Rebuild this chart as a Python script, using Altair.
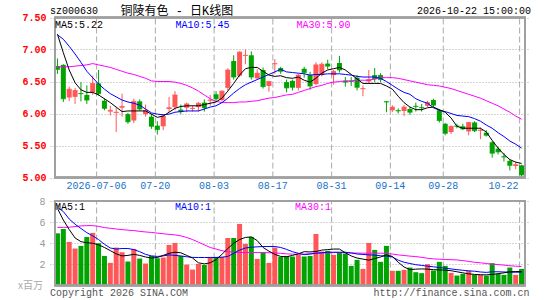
import altair as alt
import pandas as pd

# ---------------- data ----------------
date_idx = [7, 17, 27, 37, 47, 57, 66, 79]
date_labels = ["2026-07-06", "07-20", "08-03", "08-17", "08-31", "09-14", "09-28", "10-22"]

opens = [6.74, 6.76, 6.25, 6.26, 6.32, 6.29, 6.33, 6.47, 6.20, 6.03,
         6.01, 6.09, 5.99, 5.89, 6.19, 5.99, 5.95, 5.81, 5.80, 6.07,
         6.10, 6.06, 6.09, 6.07, 6.10, 6.17, 6.20, 6.30, 6.21, 6.40,
         6.82, 6.59, 6.90, 6.91, 6.55, 6.68, 6.43, 6.77, 6.71, 6.49,
         6.51, 6.40, 6.70, 6.60, 6.46, 6.60, 6.78, 6.60, 6.79, 6.51,
         6.51, 6.56, 6.38, 6.50, 6.60, 6.60, 6.19, 6.05, 6.05, 6.04,
         6.07, 6.12, 6.10, 6.12, 6.21, 6.05, 5.84, 5.71, 5.81, 5.80,
         5.72, 5.86, 5.73, 5.70, 5.55, 5.45, 5.33, 5.26, 5.18, 5.19]
highs = [6.86, 6.77, 6.42, 6.40, 6.49, 6.44, 6.59, 6.68, 6.24, 6.12,
         6.10, 6.31, 6.01, 6.23, 6.22, 6.14, 5.99, 5.88, 5.99, 6.26,
         6.35, 6.14, 6.17, 6.13, 6.18, 6.22, 6.29, 6.35, 6.36, 6.71,
         6.91, 6.97, 7.00, 6.97, 6.69, 6.72, 6.51, 6.85, 6.73, 6.53,
         6.53, 6.62, 6.73, 6.65, 6.80, 6.80, 6.84, 6.68, 6.90, 6.57,
         6.57, 6.60, 6.44, 6.68, 6.71, 6.63, 6.19, 6.13, 6.08, 6.13,
         6.10, 6.17, 6.15, 6.20, 6.23, 6.07, 5.85, 5.81, 5.84, 5.84,
         5.87, 5.88, 5.78, 5.74, 5.57, 5.48, 5.385, 5.29, 5.245, 5.20]
lows = [6.62, 6.18, 6.19, 6.15, 6.19, 6.15, 6.29, 6.28, 6.05, 5.97,
        5.71, 5.95, 5.84, 5.85, 6.04, 5.95, 5.76, 5.67, 5.74, 6.02,
        6.05, 5.99, 6.02, 6.03, 6.03, 6.03, 6.12, 6.18, 6.19, 6.36,
        6.53, 6.57, 6.77, 6.53, 6.53, 6.39, 6.34, 6.62, 6.62, 6.33,
        6.36, 6.36, 6.56, 6.37, 6.44, 6.58, 6.69, 6.45, 6.64, 6.42,
        6.43, 6.36, 6.27, 6.46, 6.49, 6.49, 6.02, 6.02, 6.00, 5.96,
        5.98, 6.03, 6.03, 6.10, 6.10, 5.86, 5.66, 5.68, 5.77, 5.74,
        5.66, 5.71, 5.60, 5.64, 5.31, 5.36, 5.25, 5.11, 5.13, 5.00]
closes = [6.69, 6.23, 6.38, 6.36, 6.31, 6.21, 6.47, 6.31, 6.08, 6.05,
          6.02, 6.11, 5.87, 6.19, 6.07, 6.05, 5.80, 5.75, 5.96, 6.09,
          6.29, 6.03, 6.15, 6.08, 6.16, 6.09, 6.21, 6.23, 6.35, 6.68,
          6.57, 6.96, 6.91, 6.57, 6.63, 6.42, 6.50, 6.78, 6.66, 6.40,
          6.41, 6.60, 6.64, 6.43, 6.76, 6.77, 6.74, 6.66, 6.68, 6.49,
          6.50, 6.41, 6.39, 6.53, 6.54, 6.53, 6.18, 6.10, 6.04, 6.10,
          6.02, 6.11, 6.09, 6.17, 6.13, 5.89, 5.69, 5.80, 5.80, 5.76,
          5.86, 5.73, 5.74, 5.66, 5.38, 5.40, 5.32, 5.19, 5.20, 5.04]
ma5 = [7.24, 6.95, 6.68, 6.48, 6.37, 6.33, 6.33, 6.29, 6.23, 6.17,
       6.10, 6.03, 6.04, 6.04, 6.04, 6.04, 5.99, 5.94, 5.96, 6.02,
       6.08, 6.11, 6.12, 6.12, 6.12, 6.14, 6.16, 6.18, 6.24, 6.35,
       6.47, 6.60, 6.70, 6.72, 6.72, 6.66, 6.60, 6.58, 6.59, 6.56,
       6.55, 6.57, 6.52, 6.49, 6.55, 6.63, 6.68, 6.70, 6.72, 6.68,
       6.61, 6.54, 6.47, 6.47, 6.47, 6.47, 6.43, 6.38, 6.27, 6.17,
       6.10, 6.06, 6.06, 6.09, 6.10, 6.06, 6.02, 5.93, 5.80, 5.77,
       5.77, 5.77, 5.77, 5.71, 5.58, 5.46, 5.36, 5.28, 5.24, 5.22]
ma10 = [7.23, 7.16, 7.05, 6.93, 6.80, 6.66, 6.56, 6.46, 6.38, 6.31,
        6.26, 6.21, 6.18, 6.16, 6.13, 6.07, 6.01, 5.99, 5.98, 5.99,
        6.02, 6.03, 6.04, 6.04, 6.04, 6.07, 6.10, 6.12, 6.17, 6.24,
        6.32, 6.39, 6.45, 6.49, 6.53, 6.57, 6.61, 6.65, 6.69, 6.65,
        6.64, 6.63, 6.62, 6.60, 6.61, 6.61, 6.62, 6.62, 6.62, 6.61,
        6.60, 6.58, 6.57, 6.57, 6.57, 6.55, 6.50, 6.44, 6.38, 6.33,
        6.30, 6.23, 6.19, 6.16, 6.09, 6.05, 6.03, 6.00, 5.97, 5.96,
        5.95, 5.92, 5.88, 5.82, 5.77, 5.70, 5.64, 5.57, 5.52, 5.46]
ma30 = [6.73, 6.73, 6.73, 6.74, 6.75, 6.76, 6.78, 6.76, 6.74, 6.72,
        6.69, 6.66, 6.63, 6.61, 6.58, 6.55, 6.51, 6.50, 6.50, 6.50,
        6.49, 6.47, 6.44, 6.40, 6.35, 6.29, 6.23, 6.19, 6.17, 6.17,
        6.17, 6.18, 6.18, 6.19, 6.20, 6.22, 6.24, 6.25, 6.27, 6.29,
        6.30, 6.33, 6.36, 6.39, 6.42, 6.44, 6.47, 6.49, 6.50, 6.51,
        6.51, 6.52, 6.52, 6.52, 6.54, 6.56, 6.56, 6.56, 6.55, 6.53,
        6.51, 6.49, 6.47, 6.45, 6.44, 6.43, 6.41, 6.39, 6.36, 6.33,
        6.30, 6.27, 6.24, 6.20, 6.16, 6.12, 6.07, 6.02, 5.96, 5.91]
volumes = [4.94, 5.35, 4.13, 3.50, 3.75, 4.60, 4.98, 4.00, 2.80, 2.14,
           3.59, 3.15, 2.27, 3.46, 2.55, 2.08, 2.80, 2.58, 2.65, 3.84,
           4.03, 2.80, 1.98, 1.51, 2.05, 1.95, 2.71, 2.71, 2.71, 4.50,
           4.50, 5.83, 3.94, 4.60, 2.52, 3.15, 2.14, 3.59, 2.71, 2.80,
           2.74, 2.90, 2.74, 2.80, 4.88, 3.21, 3.28, 2.90, 3.15, 3.02,
           1.86, 2.43, 1.57, 4.03, 3.37, 2.24, 3.75, 1.39, 1.39, 1.48,
           1.70, 1.26, 1.17, 2.02, 1.42, 2.24, 1.86, 1.20, 0.94, 1.10,
           1.39, 1.01, 1.01, 0.94, 2.11, 1.10, 1.01, 1.70, 1.01, 1.57]
vol_ma5 = [7.3, 6.2, 5.3, 4.5, 4.15, 4.05, 4.0, 3.85, 3.6, 3.3,
           3.0, 2.8, 2.85, 2.95, 2.85, 2.7, 2.6, 2.65, 2.85, 3.05,
           3.15, 3.1, 2.85, 2.6, 2.15, 2.05, 2.15, 2.45, 2.95, 3.5,
           4.0, 4.35, 4.55, 4.6, 4.25, 3.6, 3.25, 2.95, 2.75, 2.72,
           2.85, 3.0, 3.2, 3.18, 3.22, 3.35, 3.4, 3.45, 3.45, 3.1,
           2.8, 2.6, 2.5, 2.4, 2.55, 2.7, 2.9, 2.75, 2.2, 1.75,
           1.5, 1.55, 1.57, 1.55, 1.5, 1.48, 1.45, 1.4, 1.3, 1.2,
           1.1, 1.05, 1.02, 1.01, 1.05, 1.12, 1.2, 1.3, 1.32, 1.32]
vol_ma10 = [7.4, 7.0, 6.3, 5.8, 5.4, 5.0, 4.7, 4.35, 3.9, 3.55,
            3.45, 3.5, 3.5, 3.4, 3.2, 2.95, 2.8, 2.75, 2.8, 2.9,
            2.85, 2.8, 2.72, 2.66, 2.65, 2.65, 2.65, 2.65, 2.68, 2.75,
            3.05, 3.35, 3.55, 3.62, 3.66, 3.69, 3.69, 3.69, 3.6, 3.42,
            3.2, 3.05, 2.92, 2.98, 3.06, 3.1, 3.15, 3.15, 3.15, 3.15,
            3.08, 2.98, 2.94, 2.9, 2.87, 2.82, 2.78, 2.7, 2.4, 2.2,
            2.08, 1.97, 1.9, 1.83, 1.77, 1.7, 1.64, 1.57, 1.5, 1.44,
            1.39, 1.35, 1.28, 1.24, 1.3, 1.3, 1.28, 1.26, 1.26, 1.26]
vol_ma30 = [5.5, 5.5, 5.52, 5.58, 5.64, 5.67, 5.67, 5.6, 5.48, 5.42,
            5.35, 5.29, 5.24, 5.2, 5.12, 5.07, 5.02, 4.96, 4.9, 4.84,
            4.79, 4.7, 4.55, 4.35, 4.1, 3.85, 3.6, 3.45, 3.3, 3.2,
            3.15, 3.13, 3.12, 3.12, 3.12, 3.12, 3.1, 3.08, 3.04, 3.0,
            2.97, 2.96, 2.97, 3.0, 3.05, 3.08, 3.1, 3.12, 3.12, 3.1,
            3.08, 3.07, 3.06, 3.06, 3.06, 3.06, 3.04, 2.98, 2.9, 2.84,
            2.78, 2.74, 2.66, 2.58, 2.52, 2.49, 2.46, 2.44, 2.42, 2.36,
            2.28, 2.2, 2.15, 2.08, 2.02, 1.98, 1.93, 1.87, 1.83, 1.80]

price_ticks = [5.0, 5.5, 6.0, 6.5, 7.0, 7.5]
vol_ticks = [2, 4, 6, 8]
ma_price_labels = ["MA5:5.22", "MA10:5.45", "MA30:5.90"]
ma_vol_labels = ["MA5:1", "MA10:1", "MA30:1"]
code_label = "sz000630"
title_label = "铜陵有色 - 日K线图"
time_label = "2026-10-22 15:00:00"
unit_label = "x百万"
left_foot = "Copyright 2026 SINA.COM"
right_foot = "http://finance.sina.com.cn"

# ---------------- styling ----------------
RED = "#ff5757"
GREEN = "#00a300"
BLUE = "#0000ff"
MAGENTA = "#ff00ff"
GRID = "#aaaaaa"
FRAME = "#a0a0a0"
MONO = "Liberation Mono"
CJK = "Liberation Mono, Noto Sans CJK SC"

df = pd.DataFrame({
    "i": list(range(len(closes))),
    "open": opens, "high": highs, "low": lows, "close": closes,
    "ma5": ma5, "ma10": ma10, "ma30": ma30,
    "vol": volumes, "vma5": vol_ma5, "vma10": vol_ma10, "vma30": vol_ma30,
})
dates = pd.DataFrame({"gi": date_idx, "label": date_labels})

XS = alt.Scale(domain=[0, 80], nice=False, zero=False)
PS = alt.Scale(domain=[5.0, 7.5], range=[177.5, 17.5], nice=False, zero=False)
VS = alt.Scale(domain=[0, 8], range=[285.5, 201], nice=False, zero=False)

p_axis = alt.Axis(values=price_ticks, format=".2f", labelColor="#ff0000", labelFont=MONO,
                  labelFontSize=10, labelFontWeight="bold", labelPadding=4, ticks=False, tickSize=0,
                  domain=False, grid=True, gridColor=GRID, gridDash=[1, 2], title=None,
                  orient="left", labelBaseline="middle")
v_axis = alt.Axis(values=vol_ticks, format="d", labelColor="#999999", labelFont=MONO,
                  labelFontSize=10, labelPadding=5, ticks=False, tickSize=0,
                  domain=False, grid=True, gridColor=GRID, gridDash=[1, 2], title=None,
                  orient="left", labelBaseline="middle")

up_down = alt.condition("datum.close >= datum.open", alt.value(RED), alt.value(GREEN))

candles = alt.Chart(df).transform_calculate(xc="datum.i + 5/12")
grid_base = alt.Chart(dates).transform_calculate(gx="datum.gi + 1/12")


def xc():
    return alt.X("xc:Q", scale=XS, axis=None)


def py(field):
    return alt.Y(field, type="quantitative", scale=PS, axis=p_axis)


def vy(field):
    return alt.Y(field, type="quantitative", scale=VS, axis=v_axis)


# ---------- price panel ----------
p_vgrid = grid_base.mark_rule(color=GRID, strokeDash=[6, 3], strokeWidth=1).encode(
    x=alt.X("gx:Q", scale=XS, axis=None),
    y=alt.YDatum(5.0, scale=PS, axis=p_axis),
    y2=alt.Y2Datum(7.5),
)
p_wick = candles.mark_rule(strokeWidth=1).encode(x=xc(), y=py("low"), y2="high", color=up_down)
p_body = candles.mark_bar(size=5).encode(x=xc(), y=py("open"), y2="close", color=up_down)
p_doji = candles.mark_tick(orient="horizontal", size=5, thickness=1).encode(
    x=xc(), y=py("close"), color=up_down)
p_ma5 = candles.mark_line(color="#000000", strokeWidth=1, clip=True).encode(x=xc(), y=py("ma5"))
p_ma10 = candles.mark_line(color=BLUE, strokeWidth=1, clip=True).encode(x=xc(), y=py("ma10"))
p_ma30 = candles.mark_line(color=MAGENTA, strokeWidth=1, clip=True).encode(x=xc(), y=py("ma30"))
p_frame = alt.Chart(dates).mark_rect(fill="transparent", stroke=FRAME, strokeWidth=1.5).encode(
    x=alt.XDatum(0, scale=XS, axis=None), x2=alt.X2Datum(80),
    y=alt.YDatum(5.0, scale=PS, axis=p_axis), y2=alt.Y2Datum(7.5),
)
price_panel = alt.layer(p_vgrid, p_wick, p_body, p_doji, p_ma30, p_ma10, p_ma5, p_frame)

# ---------- volume panel ----------
v_vgrid = grid_base.mark_rule(color=GRID, strokeDash=[6, 3], strokeWidth=1).encode(
    x=alt.X("gx:Q", scale=XS, axis=None),
    y=alt.YDatum(0, scale=VS, axis=v_axis),
    y2=alt.Y2Datum(8),
)
v_bars = candles.mark_bar(size=5).encode(x=xc(), y=vy("vol"), color=up_down)
v_ma5 = candles.mark_line(color="#000000", strokeWidth=1, clip=True).encode(x=xc(), y=vy("vma5"))
v_ma10 = candles.mark_line(color=BLUE, strokeWidth=1, clip=True).encode(x=xc(), y=vy("vma10"))
v_ma30 = candles.mark_line(color=MAGENTA, strokeWidth=1, clip=True).encode(x=xc(), y=vy("vma30"))
v_frame = alt.Chart(dates).mark_rect(fill="transparent", stroke=FRAME, strokeWidth=1.5).encode(
    x=alt.XDatum(0, scale=XS, axis=None), x2=alt.X2Datum(80),
    y=alt.YDatum(0, scale=VS, axis=v_axis), y2=alt.Y2Datum(8),
)
vol_panel = alt.layer(v_vgrid, v_bars, v_ma30, v_ma10, v_ma5, v_frame)

# ---------- date labels ----------
d_mid = grid_base.transform_filter("datum.gi < 79").mark_text(
    font=MONO, fontSize=10, color="#1a73c8", align="center", baseline="middle").encode(
    x=alt.X("gx:Q", scale=XS, axis=None), y=alt.value(186), text="label:N")
d_last = grid_base.transform_filter("datum.gi >= 79").mark_text(
    font=MONO, fontSize=10, color="#1a73c8", align="right", baseline="middle", dx=-1).encode(
    x=alt.X("gx:Q", scale=XS, axis=None), y=alt.value(186), text="label:N")


def label(text, x, y, color="#000000", align="left", size=10, font=MONO):
    return alt.Chart(pd.DataFrame({"t": [text]})).mark_text(
        align=align, baseline="middle", font=font, fontSize=size, color=color
    ).encode(text="t:N", x=alt.value(x), y=alt.value(y))


texts = [
    label(code_label, 0, 11),
    label(title_label, 70.5, 10.5, size=12, font=CJK),
    label(time_label, 481, 11, align="right"),
    label(ma_price_labels[0], 5, 24.5),
    label(ma_price_labels[1], 125.5, 24.5, color=BLUE),
    label(ma_price_labels[2], 246.5, 24.5, color=MAGENTA),
    label(ma_vol_labels[0], 5, 206.5),
    label(ma_vol_labels[1], 125, 206.5, color=BLUE),
    label(ma_vol_labels[2], 245, 206.5, color=MAGENTA),
    label(unit_label, -7, 286, color="#aaaaaa", align="right", font="Noto Sans CJK SC"),
    label(left_foot, 0, 292.5, color="#555555"),
    label(right_foot, 479.5, 292.5, color="#555555", align="right"),
]

chart = alt.layer(price_panel, vol_panel, d_mid, d_last, *texts).resolve_scale(
    y="independent"
).properties(
    width=480, height=300,
    autosize=alt.AutoSizeParams(type="none"),
    padding={"left": 50, "top": 0, "right": 15, "bottom": 0},
    background="#ffffff",
).configure_view(strokeWidth=0)

chart.save("out.html", embed_options={"renderer": "svg", "actions": False})
